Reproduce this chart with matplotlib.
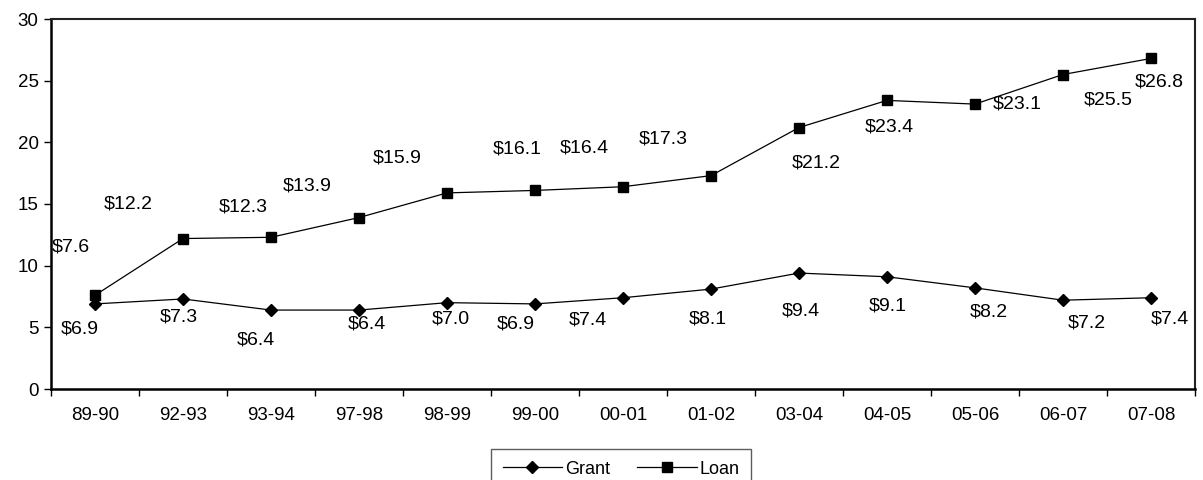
import matplotlib
matplotlib.use("Agg")
import matplotlib.pyplot as plt

plt.rcParams['font.family'] = ['Liberation Sans', 'DejaVu Sans']

years = ["89-90", "92-93", "93-94", "97-98", "98-99", "99-00", "00-01",
         "01-02", "03-04", "04-05", "05-06", "06-07", "07-08"]
grant = [6.9, 7.3, 6.4, 6.4, 7.0, 6.9, 7.4, 8.1, 9.4, 9.1, 8.2, 7.2, 7.4]
loan = [7.6, 12.2, 12.3, 13.9, 15.9, 16.1, 16.4, 17.3, 21.2, 23.4, 23.1, 25.5, 26.8]

# label offsets (pixels) from each point
grant_off = [(-15, -25), (-4, -18), (-15, -30), (8, -14), (4, -16), (-19, -20),
             (-35, -22), (-3, -30), (2, -38), (1, -29), (14, -24), (24, -23), (19, -21)]
loan_off = [(-24, 48), (-55, 35), (-28, 30), (-52, 32), (-50, 35), (-18, 41),
            (-39, 39), (-48, 37), (17, -35), (2, -27), (42, 0), (45, -25), (8, -24)]

fig = plt.figure(figsize=(12.03, 4.8), dpi=100)
ax = fig.add_axes([51 / 1203, 91 / 480, 1144 / 1203, 370 / 480])

x = list(range(len(years)))
ax.plot(x, grant, color='black', lw=0.9, marker='D', ms=6.5, mfc='black',
        mec='black', label='Grant')
ax.plot(x, loan, color='black', lw=0.9, marker='s', ms=7, mfc='black',
        mec='black', label='Loan')

for xi, v, (dx, dy) in zip(x, grant, grant_off):
    ax.annotate(f"${v:.1f}", (xi, v), xytext=(dx, dy), textcoords='offset pixels',
                ha='center', va='center', fontsize=14)
for xi, v, (dx, dy) in zip(x, loan, loan_off):
    ax.annotate(f"${v:.1f}", (xi, v), xytext=(dx, dy), textcoords='offset pixels',
                ha='center', va='center', fontsize=14, annotation_clip=False)

ax.set_xlim(-0.5, len(years) - 0.5)
ax.set_ylim(0, 30)
ax.set_yticks(range(0, 31, 5))
ax.set_xticks([i - 0.5 for i in range(len(years) + 1)])
ax.set_xticklabels([])
ax.set_xticks(x, minor=True)
ax.set_xticklabels(years, minor=True)
ax.tick_params(axis='x', which='major', direction='out', length=5, width=1)
ax.tick_params(axis='x', which='minor', length=0, pad=13, labelsize=13.5)
ax.tick_params(axis='y', direction='out', length=5, width=1, labelsize=13.5, pad=4)

for side in ['left', 'bottom']:
    ax.spines[side].set_linewidth(1.8)
for side in ['top', 'right']:
    ax.spines[side].set_linewidth(1.5)
    ax.spines[side].set_color('#222222')

leg = fig.legend(loc='upper center', bbox_to_anchor=(621 / 1203, 1 - 449 / 480),
                 ncol=2, frameon=True, fancybox=False, edgecolor='#333333',
                 fontsize=13, handlelength=3.3, columnspacing=1.5,
                 handletextpad=0.15, borderpad=0.65, borderaxespad=0.0)
leg.get_frame().set_linewidth(1.0)

fig.savefig("out.png", dpi=100)
